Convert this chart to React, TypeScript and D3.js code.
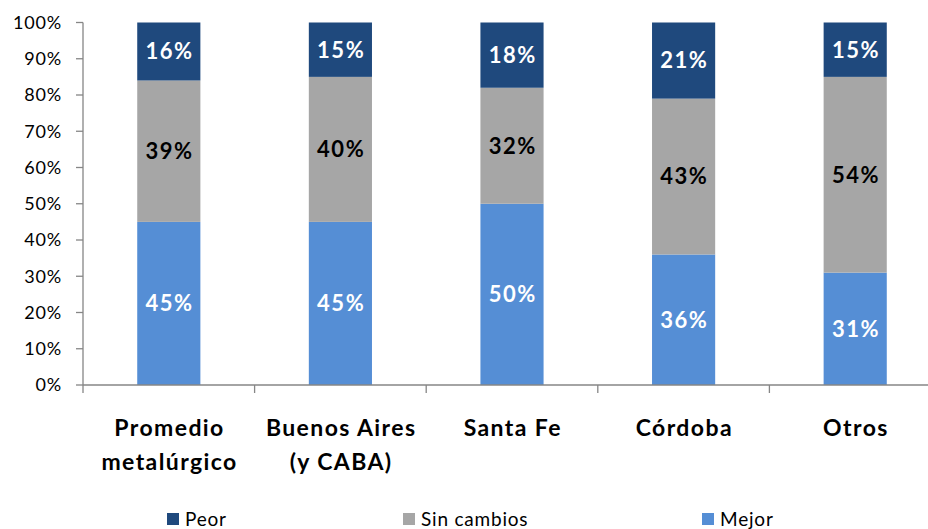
import React, { useEffect, useRef } from 'react';
import * as d3 from 'd3';

const categories = [['Promedio', 'metalúrgico'], ['Buenos Aires', '(y CABA)'], ['Santa Fe'], ['Córdoba'], ['Otros']];
const mejor = [45, 45, 50, 36, 31];
const sinCambios = [39, 40, 32, 43, 54];
const peor = [16, 15, 18, 21, 15];
const yTicks = [0, 10, 20, 30, 40, 50, 60, 70, 80, 90, 100];

const seriesNames = ['Mejor', 'Sin cambios', 'Peor'];
const colors: Record<string, string> = { 'Mejor': '#558ED5', 'Sin cambios': '#A6A6A6', 'Peor': '#1F497D' };
const labelColors: Record<string, string> = { 'Mejor': '#ffffff', 'Sin cambios': '#000000', 'Peor': '#ffffff' };

const App = () => {
  const svgRef = useRef<SVGSVGElement | null>(null);

  useEffect(() => {
    if (!svgRef.current) return;
    const svg = d3.select(svgRef.current);
    svg.selectAll('*').remove();

    const width = 928;
    const font = 'Lato, Carlito, Calibri, sans-serif';
    const axisColor = '#868686';

    const left = 83;
    const top = 22.5;
    const bottom = 385;

    const names = categories.map(c => c.join(' '));
    const x = d3.scaleBand<string>().domain(names).range([left, left + 5 * 171.6]).padding(0);
    const y = d3.scaleLinear().domain([0, 100]).range([bottom, top]);
    const barW = x.bandwidth() * 0.368;

    // Stack data
    const rows = names.map((n, i) => ({ name: n, 'Mejor': mejor[i], 'Sin cambios': sinCambios[i], 'Peor': peor[i] }));
    const stacked = d3.stack<any>().keys(seriesNames)(rows);

    const g = svg.append('g');
    stacked.forEach(layer => {
      const key = layer.key;
      g.selectAll(null)
        .data(layer)
        .enter()
        .append('rect')
        .attr('x', d => (x(d.data.name) as number) + x.bandwidth() / 2 - barW / 2)
        .attr('y', d => y(d[1]))
        .attr('width', barW)
        .attr('height', d => y(d[0]) - y(d[1]))
        .attr('fill', colors[key]);

      g.selectAll(null)
        .data(layer)
        .enter()
        .append('text')
        .attr('x', d => (x(d.data.name) as number) + x.bandwidth() / 2 + 0.75)
        .attr('y', d => (y(d[0]) + y(d[1])) / 2)
        .attr('dy', '0.36em')
        .attr('text-anchor', 'middle')
        .attr('font-family', font)
        .attr('font-weight', 'bold')
        .attr('font-size', '22px')
        .attr('letter-spacing', '1.5px')
        .attr('fill', labelColors[key])
        .text(d => `${d[1] - d[0]}%`);
    });

    // Y axis
    const yAxis = svg.append('g');
    yAxis.append('line')
      .attr('x1', left).attr('x2', left)
      .attr('y1', top).attr('y2', bottom + 8)
      .attr('stroke', axisColor).attr('stroke-width', 1.3);
    yAxis.selectAll(null)
      .data(yTicks)
      .enter()
      .append('line')
      .attr('x1', left - 7).attr('x2', left)
      .attr('y1', d => y(d)).attr('y2', d => y(d))
      .attr('stroke', axisColor).attr('stroke-width', 1.3);
    yAxis.selectAll(null)
      .data(yTicks)
      .enter()
      .append('text')
      .attr('x', 62)
      .attr('y', d => y(d))
      .attr('dy', '0.36em')
      .attr('text-anchor', 'end')
      .attr('font-family', font)
      .attr('font-size', '18px')
      .attr('letter-spacing', '0.8px')
      .attr('fill', '#000')
      .text(d => `${d}%`);

    // X axis
    const xAxis = svg.append('g');
    xAxis.append('line')
      .attr('x1', left).attr('x2', width)
      .attr('y1', bottom).attr('y2', bottom)
      .attr('stroke', axisColor).attr('stroke-width', 1.3);
    xAxis.selectAll(null)
      .data(names.slice(1))
      .enter()
      .append('line')
      .attr('x1', d => x(d) as number).attr('x2', d => x(d) as number)
      .attr('y1', bottom).attr('y2', bottom + 8)
      .attr('stroke', axisColor).attr('stroke-width', 1.3);

    categories.forEach((lines, i) => {
      const cx = (x(names[i]) as number) + x.bandwidth() / 2 + 0.75;
      const t = xAxis.append('text')
        .attr('text-anchor', 'middle')
        .attr('font-family', font)
        .attr('font-weight', 'bold')
        .attr('font-size', '23px')
        .attr('letter-spacing', '1.4px')
        .attr('fill', '#000');
      lines.forEach((ln, j) => {
        t.append('tspan')
          .attr('x', cx)
          .attr('y', 436 + j * 34)
          .text(ln);
      });
    });

    // Legend
    const legendItems = [
      { name: 'Peor', x: 167 },
      { name: 'Sin cambios', x: 403 },
      { name: 'Mejor', x: 702 },
    ];
    const legend = svg.append('g');
    legendItems.forEach(item => {
      legend.append('rect')
        .attr('x', item.x).attr('y', 513)
        .attr('width', 12).attr('height', 12)
        .attr('fill', colors[item.name]);
      legend.append('text')
        .attr('x', item.x + 18).attr('y', 519)
        .attr('dy', '0.36em')
        .attr('font-family', font)
        .attr('font-size', '19px')
        .attr('letter-spacing', '0.8px')
        .attr('fill', '#000')
        .text(item.name);
    });
  }, []);

  return (
    <svg ref={svgRef} width={928} height={529}
      style={{ position: 'absolute', left: 0, top: 0, background: '#fff' }} />
  );
};

export default App;
